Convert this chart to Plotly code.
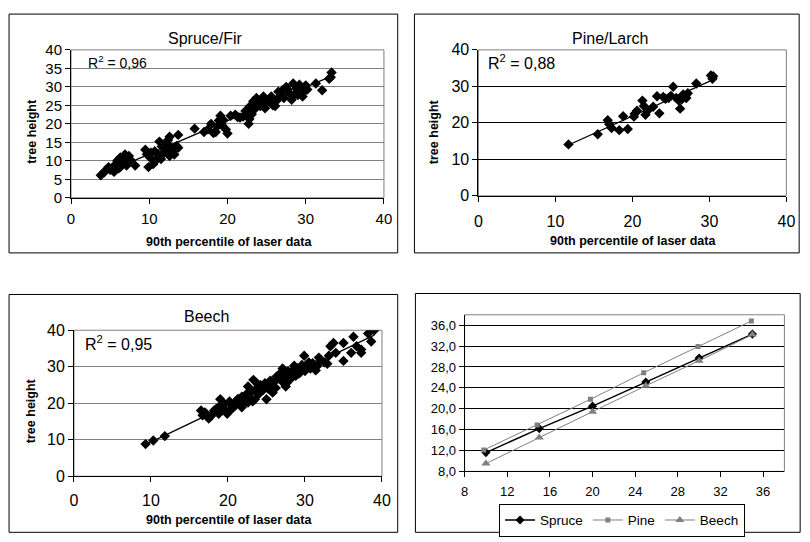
import numpy as np
import plotly.graph_objects as go

W, H = 810, 542
OFF = 8  # default page body margin
FONT = "Liberation Sans, Arial, sans-serif"

# ---------------- data ----------------
spruce_pts = [(3.8,6.1),(4.2,6.8),(4.4,7.4),(4.8,8.3),(5.0,7.6),(5.5,7.0),(5.7,9.1),(5.9,10.0),(6.1,8.0),
              (6.3,10.9),(6.3,8.3),(6.7,10.0),(6.9,11.7),(7.1,8.7),(7.4,11.3),(7.6,10.2),(8.2,8.7),
              (9.5,13.0),(9.7,11.8),(9.9,8.3),(10.1,10.9),(10.2,12.2),(10.5,9.1),(10.7,12.6),(10.8,10.0),
              (11.1,11.7),(11.3,15.2),(11.5,10.5),(11.6,13.9),(11.8,12.0),(12.0,12.6),(12.2,14.5),(12.4,15.6),
              (12.6,16.5),(12.6,11.3),(12.8,13.6),(13.0,12.6),(13.2,11.7),(13.5,14.0),(13.7,13.5),(13.7,17.0),
              (15.8,18.7),(17.0,17.8),(17.5,18.5),(17.9,20.0),(18.2,17.5),(18.5,17.8),(18.7,19.3),(18.9,20.9),
              (19.1,22.2),(19.3,19.6),(19.5,21.0),(19.8,18.5),(20.0,17.4),(20.4,22.2),(21.0,22.5),(21.3,21.8),
              (21.6,21.7),(22.0,22.0),(22.3,23.5),(22.5,23.0),(22.7,20.0),(22.8,21.3),(22.9,24.8),(23.1,22.6),
              (23.3,26.1),(23.5,24.0),(23.7,27.0),(23.9,25.5),(24.2,24.8),(24.4,26.0),(24.6,27.4),(24.8,24.2),
              (25.0,25.7),(25.3,26.5),(25.6,27.4),(25.8,25.0),(26.1,24.8),(26.3,26.3),(26.5,28.7),(26.7,27.4),
              (27.0,29.0),(27.2,27.0),(27.5,30.0),(27.7,29.2),(27.9,28.3),(28.2,26.5),(28.4,30.9),(28.6,28.0),
              (28.8,29.6),(29.0,27.8),(29.2,30.6),(29.4,30.0),(29.6,27.4),(29.8,28.7),(30.0,30.4),(30.2,29.3),
              (31.3,30.9),(32.1,29.1),(33.0,32.2),(33.2,32.6),(33.3,33.9)]
spruce_x = [p[0] for p in spruce_pts]
spruce_y = [p[1] for p in spruce_pts]

pine_pts = [(11.7,14.1),(15.5,16.9),(16.8,20.7),(17.3,18.6),(17.0,19.6),(18.3,18.0),(18.8,21.8),(19.4,18.3),
            (20.2,21.7),(20.3,22.5),(20.6,23.3),(21.3,26.1),(21.5,24.6),(21.7,22.2),(22.0,23.4),(22.7,24.4),
            (23.2,27.3),(23.5,22.6),(24.0,27.1),(24.3,26.6),(24.7,26.8),(25.0,27.4),(25.3,29.9),(25.7,26.8),
            (26.0,26.2),(26.2,23.9),(26.4,26.4),(26.6,27.8),(26.9,27.4),(27.0,26.8),(27.2,28.1),(28.3,30.8),
            (30.2,33.0),(30.4,32.1),(30.5,32.8)]
pine_x = [p[0] for p in pine_pts]
pine_y = [p[1] for p in pine_pts]

beech_pts = [(9.3,8.8),(10.3,9.8),(11.8,11.0),(16.5,18.0),(16.7,16.7),(17.5,15.8),(18.2,18.0),(18.8,17.1),
             (19.0,21.1),(19.0,19.3),(19.9,17.1),(20.3,19.8),(20.7,18.9),(21.1,20.7),(21.8,18.9),(22.2,21.5),
             (22.6,20.2),(22.6,24.6),(23.3,26.4),(23.5,21.1),(23.9,25.1),(24.6,23.7),(25.0,21.1),(25.4,25.7),
             (25.8,22.9),(26.3,27.3),(27.1,29.5),(27.5,24.6),(28.0,27.9),(28.6,30.3),(29.2,28.1),(29.9,33.0),
             (30.1,29.9),(30.5,31.2),(31.4,29.0),(31.8,32.5),(32.9,30.8),(33.1,33.0),(33.3,35.6),(33.7,36.5),
             (34.0,33.8),(35.0,36.5),(35.0,31.6),(36.0,33.8),(36.3,38.2),(36.7,35.6),(37.3,34.7),(37.3,33.8),
             (38.2,39.1),(38.6,36.9),(39.0,40.0),
             (17.0,17.5),(17.8,16.5),(18.5,18.5),(19.2,18.0),(19.5,19.8),(19.8,17.8),(20.2,20.5),(20.5,18.5),
             (21.0,19.5),(21.3,21.2),(21.5,20.0),(21.8,21.8),(22.0,19.8),(22.4,22.5),(22.8,21.5),(23.0,23.0),
             (23.2,20.5),(23.6,23.8),(24.0,22.5),(24.2,25.0),(24.5,24.2),(24.8,25.5),(25.2,24.0),(25.5,26.2),
             (25.7,24.8),(26.0,25.8),(26.2,24.2),(26.5,26.8),(26.8,28.2),(27.0,26.0),(27.3,27.5),(27.6,25.5),
             (27.8,28.8),(28.2,26.8),(28.4,29.0),(28.8,27.5),(29.0,29.6),(29.4,28.5),(29.6,30.5),(30.0,28.8),
             (30.3,30.2),(30.7,29.5),(31.0,31.0),(31.6,30.2),(32.0,31.8),(32.5,31.2)]
beech_x = [p[0] for p in beech_pts]
beech_y = [p[1] for p in beech_pts]

r2_labels = ["0,96", "0,88", "0,95"]
titles = ["Spruce/Fir", "Pine/Larch", "Beech"]

# comparison panel
cmp_spruce_x = [10, 15, 20, 25, 30, 35]
cmp_spruce_y = [11.6, 16.2, 20.5, 25.1, 29.7, 34.3]
cmp_pine_x = [9.8, 14.8, 19.8, 24.8, 29.9, 34.9]
cmp_pine_y = [12.1, 16.9, 21.8, 26.9, 31.9, 36.8]
cmp_beech_x = [10, 15, 20, 25, 30, 35]
cmp_beech_y = [9.5, 14.5, 19.4, 24.4, 29.2, 34.2]

# ---------------- figure ----------------
fig = go.Figure()

def fx(p):
    return (p - OFF) / W

def fy(p):
    return 1 - (p - OFF) / H

def add_scatter(xs, ys, n):
    xa, ya = ("x", "y") if n == 1 else (f"x{n}", f"y{n}")
    fig.add_trace(go.Scatter(x=xs, y=ys, mode="markers",
                             marker=dict(symbol="diamond", size=8, color="black", line=dict(width=0)),
                             xaxis=xa, yaxis=ya, showlegend=False, hoverinfo="skip"))
    k, b = np.polyfit(xs, ys, 1)
    xl = [min(xs), max(xs)]
    fig.add_trace(go.Scatter(x=xl, y=[k * v + b for v in xl], mode="lines",
                             line=dict(color="black", width=1.3),
                             xaxis=xa, yaxis=ya, showlegend=False, hoverinfo="skip"))

add_scatter(spruce_x, spruce_y, 1)
add_scatter(pine_x, pine_y, 2)
add_scatter(beech_x, beech_y, 3)

fig.add_trace(go.Scatter(x=cmp_spruce_x, y=cmp_spruce_y, mode="lines+markers", name="Spruce",
                         line=dict(color="black", width=1.5),
                         marker=dict(symbol="diamond", size=7, color="black"),
                         xaxis="x4", yaxis="y4"))
fig.add_trace(go.Scatter(x=cmp_pine_x, y=cmp_pine_y, mode="lines+markers", name="Pine",
                         line=dict(color="#808080", width=1),
                         marker=dict(symbol="square", size=5, color="#808080"),
                         xaxis="x4", yaxis="y4"))
fig.add_trace(go.Scatter(x=cmp_beech_x, y=cmp_beech_y, mode="lines+markers", name="Beech",
                         line=dict(color="#808080", width=1),
                         marker=dict(symbol="triangle-up", size=8, color="#808080"),
                         xaxis="x4", yaxis="y4"))

def axis(domain, rng, dtick, anchor, size, grid=False, gridcolor="#808080", standoff=0, fmt=None, tick0=0):
    d = dict(domain=domain, range=rng, dtick=dtick, tick0=tick0, anchor=anchor,
             showgrid=grid, gridcolor=gridcolor, gridwidth=1,
             showline=True, linecolor="black", linewidth=1,
             ticks="outside", ticklen=5, tickcolor="black", tickwidth=1,
             tickfont=dict(family=FONT, size=size, color="black"),
             zeroline=False, fixedrange=True, ticklabelstandoff=standoff)
    if fmt:
        d["tickformat"] = fmt
    return d

# plot area pixel boxes (left, top, right, bottom)
boxes = {1: (68, 42, 386, 195), 2: (482, 42, 795, 193), 3: (71, 332, 384, 483), 4: (468, 316, 793, 478)}

def dom(n):
    l, t, r, b = boxes[n]
    return [fx(l), fx(r)], [fy(b), fy(t)]

d1x, d1y = dom(1)
d2x, d2y = dom(2)
d3x, d3y = dom(3)
d4x, d4y = dom(4)

fig.update_layout(
    width=W, height=H, margin=dict(l=0, r=0, t=0, b=0),
    paper_bgcolor="white", plot_bgcolor="white",
    separators=",.",
    font=dict(family=FONT, color="black"),
    xaxis=axis(d1x, [0, 40], 10, "y", 15, standoff=2),
    yaxis=axis(d1y, [0, 40], 5, "x", 15, grid=True, gridcolor="#808080"),
    xaxis2=axis(d2x, [0, 40], 10, "y2", 16, standoff=6),
    yaxis2=axis(d2y, [0, 40], 10, "x2", 16, grid=True, gridcolor="#000000"),
    xaxis3=axis(d3x, [0, 40], 10, "y3", 16, standoff=5),
    yaxis3=axis(d3y, [0, 40], 10, "x3", 16, grid=True, gridcolor="#808080"),
    xaxis4=axis(d4x, [8, 38], 4, "y4", 13, standoff=3, tick0=8),
    yaxis4=axis(d4y, [8, 38], 4, "x4", 13, grid=True, gridcolor="#000000", fmt=".1f", tick0=8),
    legend=dict(orientation="h", x=fx(628), y=fy(528.5), xanchor="center", yanchor="middle",
                bordercolor="black", borderwidth=1, bgcolor="white",
                font=dict(family=FONT, size=13.5, color="black"),
                itemwidth=30, tracegroupgap=0),
)

shapes = []
# panel frames
for (l, t, r, b) in [(5, 5, 400, 252), (417, 5, 808, 252), (5, 295, 400, 541), (418, 294, 809, 541)]:
    shapes.append(dict(type="rect", xref="paper", yref="paper", x0=fx(l), x1=fx(r), y0=fy(b), y1=fy(t),
                       line=dict(color="black", width=1), fillcolor="rgba(0,0,0,0)", layer="below"))
# plot-area borders
for n in [1, 2, 3, 4]:
    xr = "x domain" if n == 1 else f"x{n} domain"
    yr = "y domain" if n == 1 else f"y{n} domain"
    shapes.append(dict(type="rect", xref=xr, yref=yr, x0=0, x1=1, y0=0, y1=1,
                       line=dict(color="#808080", width=1), fillcolor="rgba(0,0,0,0)", layer="below"))
fig.update_layout(shapes=shapes)

ann = []
# titles
for txt, (x, y) in zip(titles, [(204, 30), (616, 30), (206, 318)]):
    ann.append(dict(text=txt, x=fx(x), y=fy(y), xref="paper", yref="paper", showarrow=False,
                    xanchor="center", yanchor="middle", font=dict(family=FONT, size=16, color="black")))
# R2 labels
for lab, (x, y), s in zip(r2_labels, [(83, 55), (490, 55), (80, 345)], [14, 16, 16]):
    ann.append(dict(text=f"R<sup>2</sup> = {lab}", x=fx(x), y=fy(y), xref="paper", yref="paper",
                    showarrow=False, xanchor="left", yanchor="middle",
                    font=dict(family=FONT, size=s, color="black")))
# axis titles
for (x, y) in [(229, 241), (639, 240), (229, 528)]:
    ann.append(dict(text="<b>90th percentile of laser data</b>", x=fx(x), y=fy(y), xref="paper", yref="paper",
                    showarrow=False, xanchor="center", yanchor="middle",
                    font=dict(family=FONT, size=12.5, color="black")))
for (x, y) in [(28, 126), (437, 127), (28, 415)]:
    ann.append(dict(text="<b>tree height</b>", x=fx(x), y=fy(y), xref="paper", yref="paper",
                    showarrow=False, xanchor="center", yanchor="middle", textangle=-90,
                    font=dict(family=FONT, size=12.5, color="black")))
fig.update_layout(annotations=ann)

fig.write_html("out.html")
